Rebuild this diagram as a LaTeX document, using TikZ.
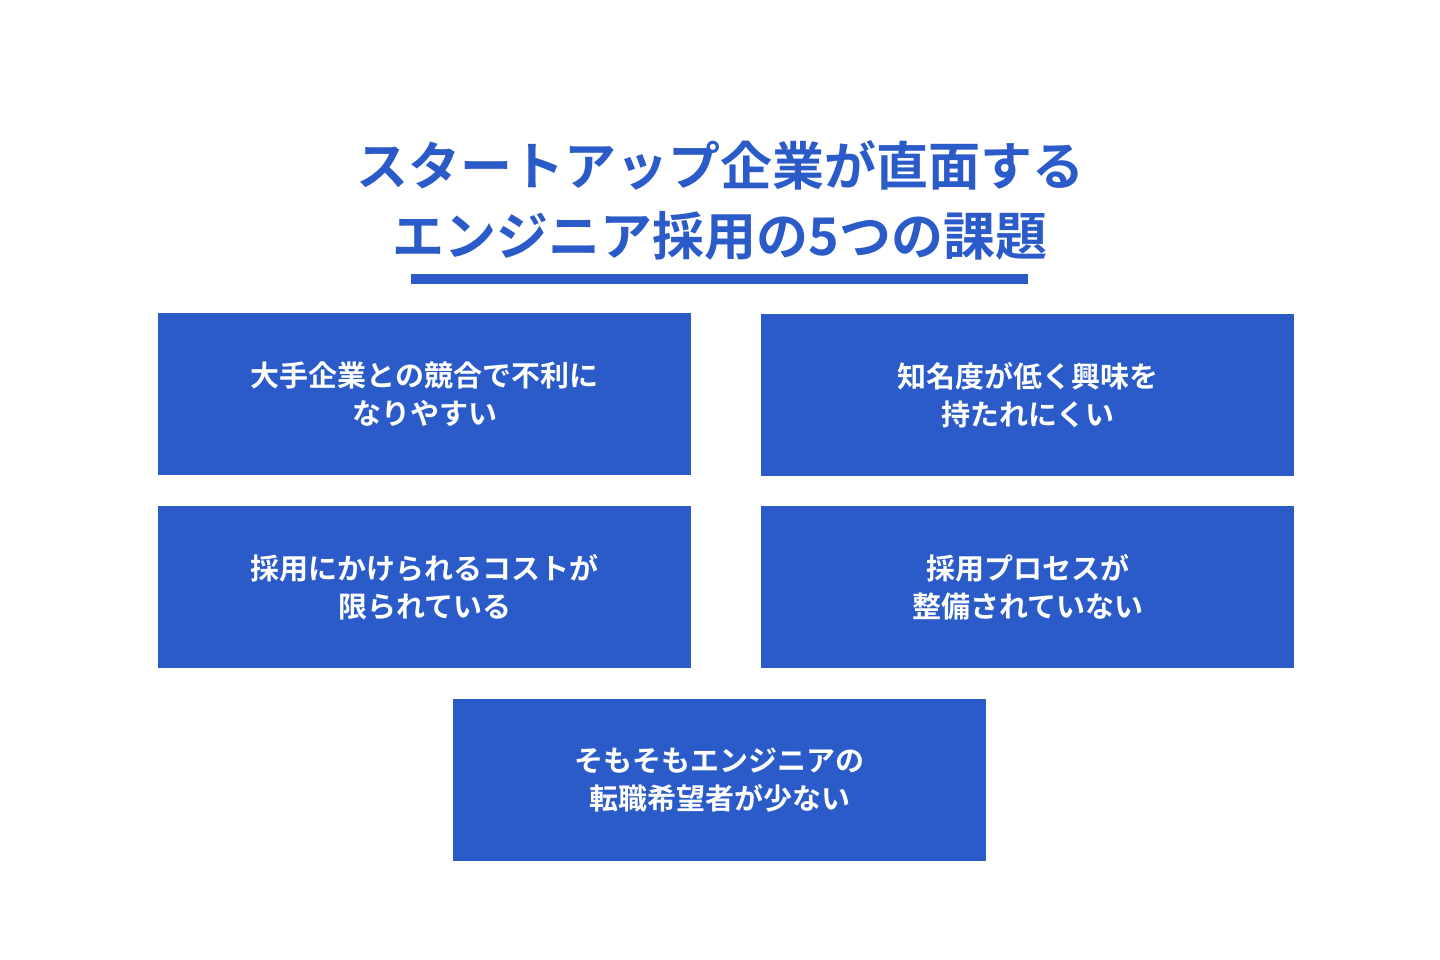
\documentclass[tikz,border=0pt]{standalone}
\usepackage{fontspec}
\newfontfamily\cjk{Noto Sans CJK JP Bold}
\definecolor{bl}{HTML}{2A5BC8}
\begin{document}
\begin{tikzpicture}[x=1pt,y=-1pt,
 card/.style={fill=bl,minimum width=533pt,minimum height=162pt,inner sep=0pt,anchor=north west,text=white,align=center,font=\cjk\fontsize{29}{38}\selectfont},
 ttl/.style={text=bl,font=\cjk\fontsize{52}{70}\selectfont,align=center}]
\useasboundingbox (0,0) rectangle (1440,960);
\node[ttl] (t) at (720,200) {スタートアップ企業が直面する\\エンジニア採用の5つの課題};
\fill[bl] (411,274) rectangle (1028,284);
\node[card] (a) at (158,313) {大手企業との競合で不利に\\なりやすい};
\node[card] (b) at (761,314) {知名度が低く興味を\\持たれにくい};
\node[card] (c) at (158,506) {採用にかけられるコストが\\限られている};
\node[card] (d) at (761,506) {採用プロセスが\\整備されていない};
\node[card] (e) at (453,699) {そもそもエンジニアの\\転職希望者が少ない};
\end{tikzpicture}
\end{document}
